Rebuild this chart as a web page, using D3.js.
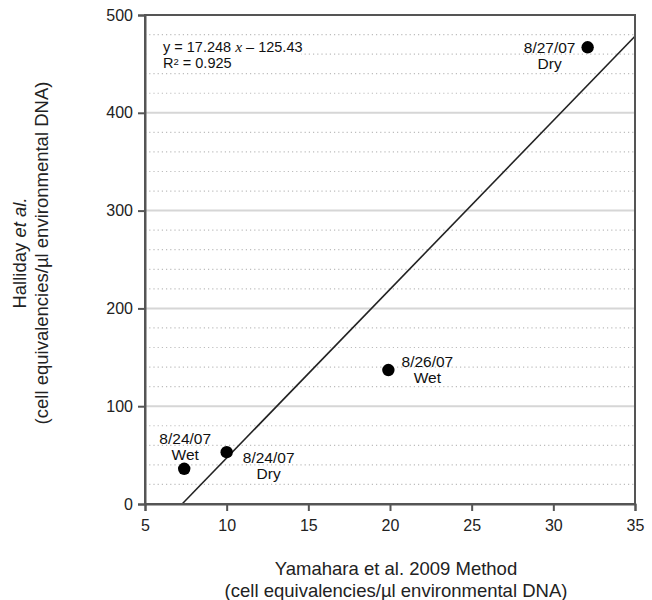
<!DOCTYPE html>
<html lang="en">
<head>
    <meta charset="UTF-8">
    <title>Halliday vs Yamahara</title>
    <script src="https://cdn.jsdelivr.net/npm/d3@7"></script>
    <style>
        body { margin: 0; background: #fff; }
        svg { font-family: "Liberation Sans", Arial, sans-serif; }
    </style>
</head>
<body>
    <div id="workspace"></div>
    <script>
        // data
        const dates = ["8/27/07", "8/26/07", "8/24/07", "8/24/07"];
        const conditions = ["Dry", "Wet", "Dry", "Wet"];
        const yamahara = [32.1, 19.9, 10.0, 7.4];
        const halliday = [467, 137, 53, 36];
        const xTicks = [5, 10, 15, 20, 25, 30, 35];
        const yTicks = [0, 100, 200, 300, 400, 500];
        const slope = 17.248, intercept = -125.43, r2 = 0.925;

        const width = 652, height = 600;
        const margin = { top: 15, right: 17, bottom: 96, left: 145 };

        const svg = d3.select("#workspace").append("svg")
            .attr("width", width)
            .attr("height", height);

        const x = d3.scaleLinear().domain([5, 35]).range([margin.left, width - margin.right]);
        const y = d3.scaleLinear().domain([0, 500]).range([height - margin.bottom, margin.top]);

        // minor dotted grid every 20
        const minor = d3.range(20, 500, 20).filter(v => v % 100 !== 0);
        svg.append("g").selectAll("line")
            .data(minor)
            .enter().append("line")
            .attr("x1", x(5)).attr("x2", x(35))
            .attr("y1", d => y(d)).attr("y2", d => y(d))
            .attr("stroke", "#bdbdbd")
            .attr("stroke-width", 1.2)
            .attr("stroke-dasharray", "1.2,3");

        // major solid grid
        svg.append("g").selectAll("line")
            .data(yTicks.filter(v => v > 0 && v < 500))
            .enter().append("line")
            .attr("x1", x(5)).attr("x2", x(35))
            .attr("y1", d => y(d)).attr("y2", d => y(d))
            .attr("stroke", "#d6d6d6")
            .attr("stroke-width", 2);

        // equation box (white background covers grid)
        const eq = svg.append("g").attr("transform", "translate(163,0)");
        eq.append("rect")
            .attr("x", -14).attr("y", 40).attr("width", 152).attr("height", 31)
            .attr("fill", "#fff");
        const t1 = eq.append("text").attr("y", 51.5).attr("font-size", 14.5).attr("fill", "#111")
            .text("y = " + slope + " ");
        t1.append("tspan").attr("font-family", "Liberation Serif, serif").attr("font-style", "italic").attr("font-size", 15.5).text("x");
        t1.append("tspan").text(" \u2013 " + Math.abs(intercept));
        const t2 = eq.append("text").attr("y", 68).attr("font-size", 14.5).attr("fill", "#111")
            .text("R");
        t2.append("tspan").attr("font-size", 9.5).attr("dy", -3.5).text("2");
        t2.append("tspan").attr("dy", 3.5).text(" = " + r2);

        // regression line from x-intercept to right edge
        const x0 = -intercept / slope;
        svg.append("line")
            .attr("x1", x(x0)).attr("y1", y(0))
            .attr("x2", x(35)).attr("y2", y(slope * 35 + intercept))
            .attr("stroke", "#222")
            .attr("stroke-width", 1.6);

        // frame
        svg.append("rect")
            .attr("x", x(5)).attr("y", y(500))
            .attr("width", x(35) - x(5)).attr("height", y(0) - y(500))
            .attr("fill", "none")
            .attr("stroke", "#555")
            .attr("stroke-width", 2);

        // axes
        const xAxis = svg.append("g")
            .attr("transform", "translate(0," + y(0) + ")")
            .call(d3.axisBottom(x).tickValues(xTicks).tickSize(7).tickPadding(9));
        const yAxis = svg.append("g")
            .attr("transform", "translate(" + x(5) + ",0)")
            .call(d3.axisLeft(y).tickValues(yTicks).tickSize(7).tickPadding(5));
        [xAxis, yAxis].forEach(a => {
            a.select(".domain").attr("stroke", "#555").attr("stroke-width", 2);
            a.selectAll(".tick line").attr("stroke", "#555").attr("stroke-width", 2);
            a.selectAll(".tick text").attr("font-size", 16).attr("fill", "#222")
                .attr("font-family", "Liberation Sans, Arial, sans-serif");
        });

        // points
        const pts = dates.map((d, i) => ({ date: d, cond: conditions[i], x: yamahara[i], y: halliday[i] }));
        svg.append("g").selectAll("circle")
            .data(pts)
            .enter().append("circle")
            .attr("cx", d => x(d.x))
            .attr("cy", d => y(d.y))
            .attr("r", 6.2)
            .attr("fill", "#000");

        // point labels: [dx, dy of first baseline] relative to the point
        const labelPos = [[-38, 6], [39, -3], [42, 11], [1, -25]];
        const lab = svg.append("g").selectAll("text")
            .data(pts)
            .enter().append("text")
            .attr("font-size", 15.5)
            .attr("fill", "#111")
            .attr("text-anchor", "middle")
            .attr("transform", (d, i) => "translate(" + (x(d.x) + labelPos[i][0]) + "," + (y(d.y) + labelPos[i][1]) + ")");
        lab.append("tspan").attr("x", 0).attr("dy", 0).text(d => d.date);
        lab.append("tspan").attr("x", 0).attr("dy", 16).text(d => d.cond);

        // axis titles
        const xt = svg.append("text")
            .attr("text-anchor", "middle")
            .attr("font-size", 18.5)
            .attr("fill", "#222")
            .attr("transform", "translate(396,575)");
        xt.append("tspan").attr("x", 0).text("Yamahara et al. 2009 Method");
        xt.append("tspan").attr("x", 0).attr("dy", 22).text("(cell equivalencies/\u00b5l environmental DNA)");

        const yt = svg.append("text")
            .attr("text-anchor", "middle")
            .attr("font-size", 18.5)
            .attr("fill", "#222")
            .attr("transform", "translate(26,253) rotate(-90)");
        const l1 = yt.append("tspan").attr("x", 0);
        l1.append("tspan").text("Halliday ");
        l1.append("tspan").attr("font-style", "italic").text("et al.");
        yt.append("tspan").attr("x", 0).attr("dy", 22).text("(cell equivalencies/\u00b5l environmental DNA)");
    </script>
</body>
</html>
